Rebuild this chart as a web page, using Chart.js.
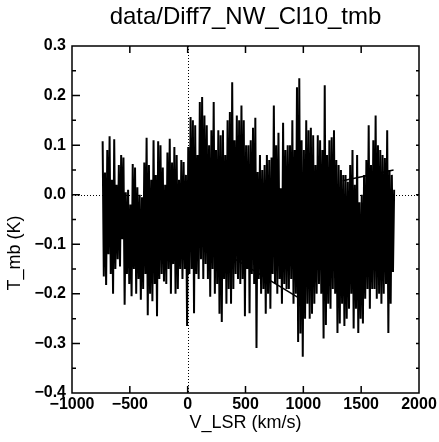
<!DOCTYPE html>
<html>
<head>
<meta charset="utf-8">
<script src="https://cdn.jsdelivr.net/npm/chart.js@4"></script>
<style>
  html, body { margin: 0; padding: 0; background: #fff; }
  #wrap { width: 439px; height: 442px; }
</style>
</head>
<body>
<div id="wrap"><canvas id="spec_Chart" width="439" height="442"></canvas></div>
<script>
// spectrum: channel velocities start at V0 with step DV (km/s)
const V0 = -735;
const DV = 10;
const tmb = [
  0.108, -0.165, 0.045, -0.182, 0.090, -0.120, 0.118, -0.160, 0.030, -0.200,
  0.112, -0.150, 0.020, -0.130, 0.060, -0.145, 0.080, -0.090, 0.075, -0.222,
  0.005, -0.160, 0.010, -0.180, -0.020, -0.205, 0.062, -0.150, 0.055, -0.200,
  0.015, -0.170, 0.000, -0.212, -0.005, -0.190, 0.065, -0.160, 0.115, -0.243,
  0.060, -0.200, 0.030, -0.215, 0.110, -0.180, 0.040, -0.245, 0.108, -0.170,
  0.100, -0.160, 0.055, -0.175, 0.020, -0.180, 0.085, -0.150, 0.113, -0.200,
  0.065, -0.140, 0.096, -0.200, 0.080, -0.190, 0.030, -0.150, 0.070, -0.170,
  0.066, -0.150, 0.040, -0.265, 0.096, -0.160, 0.157, -0.150, 0.150, -0.239,
  0.140, -0.160, 0.080, -0.170, 0.187, -0.130, 0.197, -0.170, 0.160, -0.140,
  0.140, -0.170, 0.100, -0.206, 0.130, -0.150, 0.187, -0.200, 0.090, -0.180,
  0.130, -0.240, 0.120, -0.257, 0.130, -0.170, 0.080, -0.220, 0.150, -0.190,
  0.167, -0.220, 0.227, -0.190, 0.110, -0.160, 0.160, -0.170, 0.150, -0.180,
  0.180, -0.170, 0.150, -0.245, 0.100, -0.150, 0.100, -0.239, 0.110, -0.160,
  0.135, -0.180, 0.155, -0.309, 0.046, -0.170, 0.080, -0.200, 0.050, -0.190,
  0.060, -0.240, 0.080, -0.200, 0.070, -0.230, 0.075, -0.160, 0.180, -0.180,
  0.100, -0.200, 0.125, -0.170, 0.013, -0.220, 0.145, -0.180, 0.090, -0.190,
  0.100, -0.190, 0.100, -0.170, 0.150, -0.220, 0.090, -0.200, 0.217, -0.297,
  0.235, -0.280, 0.110, -0.327, 0.090, -0.250, 0.150, -0.220, 0.130, -0.250,
  0.135, -0.240, 0.120, -0.220, 0.060, -0.200, 0.120, -0.180, 0.110, -0.200,
  0.090, -0.290, 0.221, -0.263, 0.080, -0.220, 0.110, -0.230, 0.116, -0.190,
  0.130, -0.200, 0.070, -0.279, 0.060, -0.260, 0.050, -0.220, 0.040, -0.265,
  0.040, -0.250, 0.026, -0.230, 0.060, -0.200, 0.090, -0.270, 0.020, -0.230,
  0.080, -0.279, -0.015, -0.250, 0.000, -0.260, 0.040, -0.210, 0.070, -0.190,
  0.140, -0.230, 0.060, -0.190, 0.110, -0.190, 0.160, -0.210, 0.100, -0.200,
  0.090, -0.220, 0.080, -0.200, 0.074, -0.180, 0.130, -0.279, 0.050, -0.220,
  0.040, -0.156, 0.010
];

// the straight baseline pieces that show through the noise (null = break)
const baseVel = [60, 200, 960, 965, 80, 500, 505, 1130, 1290, 1295, 1340, 1780];
const baseTmb = [-0.075, -0.100, -0.208, null, -0.080, -0.090, null, -0.120, -0.126, null, 0.028, 0.050];

const xTicks = [-1000, -500, 0, 500, 1000, 1500, 2000];
const yTicks = [-0.4, -0.3, -0.2, -0.1, 0.0, 0.1, 0.2, 0.3];

const titleText = 'data/Diff7_NW_Cl10_tmb';
const xTitle = 'V_LSR (km/s)';
const yTitle = 'T_mb (K)';

const FONT = '"Liberation Sans", Arial, Helvetica, sans-serif';
const minus = s => s.replace('-', '\u2212');

const specPoints = tmb.map((v, i) => ({ x: V0 + i * DV, y: v }));
const basePoints = baseVel.map((v, i) => ({ x: v, y: baseTmb[i] }));

// dotted zero lines
const zeroLines = {
    id: 'zeroLines',
    beforeDatasetsDraw(chart) {
        const { ctx, chartArea: a, scales: { x, y } } = chart;
        const x0 = Math.round(x.getPixelForValue(0)) + 0.5;
        const y0 = Math.round(y.getPixelForValue(0)) + 0.5;
        ctx.save();
        ctx.strokeStyle = '#000';
        ctx.lineWidth = 1;
        ctx.setLineDash([1, 2]);
        ctx.beginPath();
        ctx.moveTo(x0, a.top);
        ctx.lineTo(x0, a.bottom);
        ctx.moveTo(a.left, y0);
        ctx.lineTo(a.right, y0);
        ctx.stroke();
        ctx.restore();
    }
};

// box, inward ticks and titles like the IDL plot
const frame = {
    id: 'frame',
    afterDraw(chart) {
        const { ctx, chartArea: a, scales: { x, y } } = chart;
        ctx.save();
        ctx.strokeStyle = '#000';
        ctx.lineWidth = 1.5;
        ctx.strokeRect(a.left, a.top, a.right - a.left, a.bottom - a.top);

        ctx.beginPath();
        x.ticks.forEach(t => {
            const px = x.getPixelForValue(t.value);
            if (px <= a.left + 1 || px >= a.right - 1) return;
            ctx.moveTo(px, a.bottom); ctx.lineTo(px, a.bottom - 7);
            ctx.moveTo(px, a.top); ctx.lineTo(px, a.top + 7);
        });
        y.ticks.forEach((t, i) => {
            const py = y.getPixelForValue(t.value);
            if (py > a.top + 1 && py < a.bottom - 1) {
                ctx.moveTo(a.left, py); ctx.lineTo(a.left + 8, py);
                ctx.moveTo(a.right, py); ctx.lineTo(a.right - 3, py);
            }
            if (i < y.ticks.length - 1) {
                const pm = y.getPixelForValue((t.value + y.ticks[i + 1].value) / 2);
                ctx.moveTo(a.left, pm); ctx.lineTo(a.left + 4, pm);
                ctx.moveTo(a.right, pm); ctx.lineTo(a.right - 3, pm);
            }
        });
        ctx.stroke();

        ctx.fillStyle = '#000';
        ctx.textAlign = 'center';
        ctx.textBaseline = 'alphabetic';
        const cx = (a.left + a.right) / 2;
        ctx.font = '24px ' + FONT;
        ctx.fillText(titleText, cx, 24);
        ctx.font = '18px ' + FONT;
        ctx.fillText(xTitle, cx, 428);
        ctx.translate(20, 253);
        ctx.rotate(-Math.PI / 2);
        ctx.fillText(yTitle, 0, 0);
        ctx.restore();
    }
};

Chart.defaults.color = '#000';
Chart.defaults.font.family = FONT;

const ctxSpec = document.getElementById('spec_Chart').getContext('2d');
new Chart(ctxSpec, {
    type: 'line',
    data: {
        datasets: [{
            data: specPoints,
            borderColor: '#000',
            borderWidth: 2,
            pointRadius: 0,
            tension: 0,
        }, {
            data: basePoints,
            borderColor: '#000',
            borderWidth: 1.5,
            pointRadius: 0,
            tension: 0,
            spanGaps: false,
        }]
    },
    options: {
        responsive: false,
        animation: false,
        events: [],
        layout: {
            padding: { left: 0, top: 46, right: 20, bottom: 0 }
        },
        plugins: {
            legend: { display: false },
            title: { display: false },
            tooltip: { enabled: false }
        },
        scales: {
            x: {
                type: 'linear',
                min: xTicks[0],
                max: xTicks[xTicks.length - 1],
                afterBuildTicks: s => { s.ticks = xTicks.map(v => ({ value: v })); },
                afterFit: s => { s.height = 49; },
                grid: { display: false, drawTicks: false },
                border: { display: false },
                ticks: {
                    padding: 2,
                    maxRotation: 0,
                    font: { size: 16, weight: 'bold' },
                    callback: v => minus(String(v))
                }
            },
            y: {
                type: 'linear',
                min: yTicks[0],
                max: yTicks[yTicks.length - 1],
                afterBuildTicks: s => { s.ticks = yTicks.map(v => ({ value: v })); },
                afterFit: s => { s.width = 72; },
                grid: { display: false, drawTicks: false },
                border: { display: false },
                ticks: {
                    padding: 6,
                    font: { size: 16, weight: 'bold' },
                    callback: v => minus(Number(v).toFixed(1))
                }
            }
        }
    },
    plugins: [zeroLines, frame]
});
</script>
</body>
</html>
